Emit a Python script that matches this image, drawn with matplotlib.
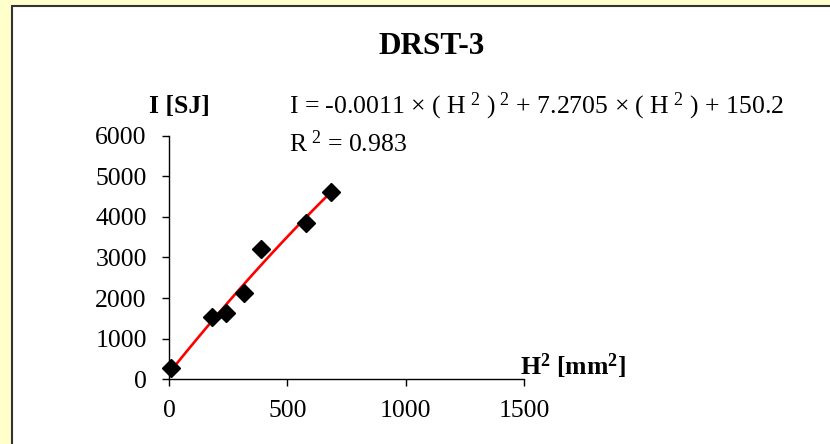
import matplotlib
matplotlib.use("Agg")
import matplotlib.pyplot as plt
import matplotlib.patches as patches
import numpy as np

plt.rcParams['font.family'] = ['Liberation Serif', 'DejaVu Serif']
plt.rcParams['mathtext.fontset'] = 'custom'
plt.rcParams['mathtext.rm'] = 'Liberation Serif'
plt.rcParams['mathtext.it'] = 'Liberation Serif'
plt.rcParams['mathtext.bf'] = 'Liberation Serif:bold'

# measured points: H^2 [mm^2] vs I [SJ]
h2 = [10, 180, 240, 315, 390, 580, 685]
intensity = [290, 1530, 1640, 2130, 3200, 3850, 4620]

# quadratic trendline shown in the chart
coef = [-0.0011, 7.2705, 150.2]
r2 = 0.983

fig = plt.figure(figsize=(8.3, 4.44), dpi=100)
fig.patch.set_facecolor('#FFFFCC')

# white chart area with dark border
panel = patches.Rectangle((12/830, -0.05), 1.0, 1 - 6/444 + 0.05,
                          transform=fig.transFigure, facecolor='white',
                          edgecolor='#333333', linewidth=1.5, zorder=-5)
fig.patches.append(panel)

ax = fig.add_axes([169/830, 64.7/444, 355/830, 243.6/444])
ax.set_facecolor('none')
ax.set_zorder(2)

xs = np.linspace(min(h2), max(h2), 100)
ax.plot(xs, np.polyval(coef, xs), color='red', lw=1.9, zorder=2, clip_on=False)
ax.plot(h2, intensity, 'D', color='black', markersize=9, zorder=3, clip_on=False)

ax.set_xlim(0, 1500)
ax.set_ylim(0, 6000)
ax.set_xticks([0, 500, 1000, 1500])
ax.set_yticks(range(0, 6001, 1000))
ax.tick_params(axis='both', labelsize=18.5, length=5, width=1, direction='out', color='black')
ax.tick_params(axis='y', pad=11)
ax.tick_params(axis='x', pad=10)
for s in ['top', 'right']:
    ax.spines[s].set_visible(False)
for s in ['left', 'bottom']:
    ax.spines[s].set_linewidth(1)

fig.text(432/830, 1 - 46/444, 'DRST-3', ha='center', va='center', fontsize=22.5, fontweight='bold')
fig.text(179/830, 1 - 107/444, 'I [SJ]', ha='center', va='center', fontsize=18.5, fontweight='bold')
fig.text(573/830, 1 - 366/444, r'H$^{\mathbf{2}}$ [mm$^{\mathbf{2}}$]', ha='center', va='center',
         fontsize=18.5, fontweight='bold')

eq = (r'I = %.4f $\times$ ( H$^{\ 2}$ )$^{\ 2}$ + %.4f $\times$ ( H$^{\ 2}$ ) + %.1f'
      % (coef[0], coef[1], coef[2]))
fig.text(289/830, 1 - 106/444, eq, ha='left', va='center', fontsize=18.5)
fig.text(289/830, 1 - 144/444, r'R$^{\ 2}$ = %.3f' % r2, ha='left', va='center', fontsize=18.5)

plt.savefig('out.png', dpi=100, facecolor=fig.get_facecolor())
